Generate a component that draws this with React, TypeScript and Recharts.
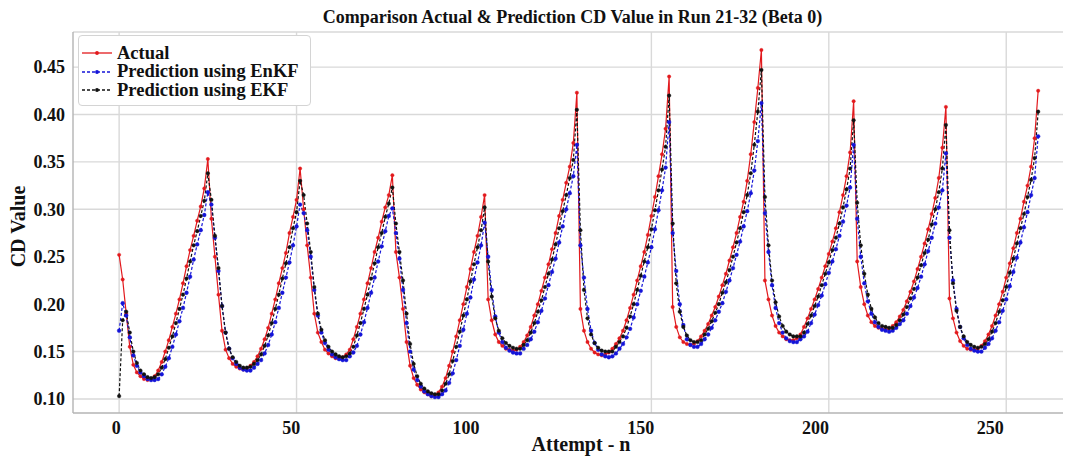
import React from 'react';
import { LineChart, Line, XAxis, YAxis, CartesianGrid, Legend, ReferenceLine } from 'recharts';

// ---- data ----
const actual = [
  0.252, 0.226, 0.190, 0.155, 0.136, 0.128, 0.124, 0.121, 0.120, 0.121, 0.124, 0.130, 0.139, 0.150, 0.162, 0.176, 0.190, 0.205, 0.222, 0.240, 0.257, 0.272, 0.288, 0.303, 0.322, 0.353,
  0.290, 0.250, 0.210, 0.172, 0.152, 0.143, 0.137, 0.134, 0.132, 0.131, 0.132, 0.135, 0.139, 0.145, 0.153, 0.163, 0.175, 0.190, 0.205, 0.222, 0.238, 0.254, 0.275, 0.292, 0.310, 0.343,
  0.300, 0.262, 0.228, 0.190, 0.170, 0.160, 0.152, 0.148, 0.145, 0.143, 0.143, 0.144, 0.147, 0.152, 0.163, 0.176, 0.190, 0.205, 0.222, 0.238, 0.255, 0.270, 0.287, 0.302, 0.315, 0.336,
  0.255, 0.228, 0.195, 0.160, 0.135, 0.122, 0.115, 0.110, 0.107, 0.105, 0.103, 0.104, 0.107, 0.113, 0.122, 0.135, 0.150, 0.166, 0.183, 0.200, 0.218, 0.237, 0.255, 0.272, 0.292, 0.315,
  0.205, 0.183, 0.168, 0.160, 0.156, 0.153, 0.152, 0.151, 0.152, 0.155, 0.160, 0.167, 0.176, 0.188, 0.200, 0.214, 0.228, 0.242, 0.258, 0.275, 0.293, 0.310, 0.328, 0.345, 0.370, 0.423,
  0.195, 0.172, 0.160, 0.153, 0.149, 0.147, 0.146, 0.147, 0.149, 0.153, 0.158, 0.164, 0.172, 0.183, 0.196, 0.210, 0.225, 0.240, 0.255, 0.273, 0.293, 0.313, 0.335, 0.358, 0.385, 0.440,
  0.197, 0.176, 0.165, 0.160, 0.158, 0.157, 0.158, 0.161, 0.166, 0.172, 0.179, 0.188, 0.197, 0.208, 0.220, 0.232, 0.246, 0.260, 0.275, 0.292, 0.308, 0.330, 0.358, 0.392, 0.428, 0.468,
  0.225, 0.205, 0.188, 0.177, 0.170, 0.166, 0.163, 0.162, 0.162, 0.164, 0.168, 0.176, 0.185, 0.195, 0.205, 0.216, 0.228, 0.240, 0.253, 0.266, 0.280, 0.297, 0.315, 0.335, 0.360, 0.414,
  0.245, 0.218, 0.200, 0.188, 0.181, 0.177, 0.175, 0.174, 0.173, 0.174, 0.177, 0.181, 0.187, 0.194, 0.203, 0.213, 0.224, 0.237, 0.250, 0.264, 0.279, 0.295, 0.312, 0.333, 0.365, 0.408,
  0.206, 0.185, 0.170, 0.161, 0.156, 0.153, 0.152, 0.152, 0.153, 0.156, 0.161, 0.168, 0.177, 0.188, 0.200, 0.213, 0.228, 0.243, 0.259, 0.275, 0.290, 0.308, 0.325, 0.345, 0.375, 0.425,
];

const enkf = [
  0.172, 0.201, 0.188, 0.165, 0.146, 0.135, 0.128, 0.124, 0.121, 0.120, 0.120, 0.121, 0.126, 0.134, 0.143, 0.155, 0.168, 0.182, 0.196, 0.212, 0.229, 0.247, 0.263, 0.278, 0.294, 0.318,
  0.305, 0.270, 0.235, 0.198, 0.170, 0.153, 0.143, 0.137, 0.133, 0.131, 0.130, 0.130, 0.133, 0.137, 0.141, 0.148, 0.157, 0.168, 0.181, 0.196, 0.212, 0.228, 0.244, 0.262, 0.282, 0.305,
  0.296, 0.278, 0.250, 0.215, 0.188, 0.170, 0.159, 0.152, 0.147, 0.144, 0.142, 0.141, 0.141, 0.145, 0.149, 0.156, 0.168, 0.181, 0.196, 0.212, 0.228, 0.245, 0.261, 0.277, 0.293, 0.301,
  0.275, 0.248, 0.215, 0.180, 0.150, 0.131, 0.120, 0.113, 0.108, 0.105, 0.103, 0.102, 0.102, 0.105, 0.109, 0.117, 0.127, 0.141, 0.156, 0.173, 0.190, 0.207, 0.226, 0.244, 0.262, 0.286,
  0.250, 0.215, 0.187, 0.170, 0.160, 0.154, 0.151, 0.149, 0.148, 0.148, 0.153, 0.157, 0.163, 0.171, 0.181, 0.193, 0.206, 0.220, 0.234, 0.248, 0.265, 0.282, 0.300, 0.317, 0.335, 0.368,
  0.262, 0.228, 0.195, 0.172, 0.159, 0.152, 0.147, 0.145, 0.144, 0.145, 0.148, 0.153, 0.158, 0.165, 0.174, 0.186, 0.200, 0.214, 0.229, 0.244, 0.260, 0.279, 0.299, 0.320, 0.344, 0.392,
  0.275, 0.235, 0.200, 0.178, 0.163, 0.157, 0.155, 0.155, 0.158, 0.163, 0.168, 0.175, 0.183, 0.192, 0.201, 0.213, 0.225, 0.238, 0.252, 0.266, 0.282, 0.298, 0.317, 0.341, 0.372, 0.412,
  0.296, 0.255, 0.220, 0.196, 0.180, 0.170, 0.164, 0.161, 0.160, 0.160, 0.163, 0.166, 0.171, 0.180, 0.189, 0.199, 0.209, 0.221, 0.233, 0.245, 0.258, 0.272, 0.287, 0.304, 0.323, 0.368,
  0.290, 0.250, 0.222, 0.203, 0.190, 0.181, 0.176, 0.173, 0.172, 0.171, 0.172, 0.175, 0.179, 0.183, 0.190, 0.198, 0.207, 0.217, 0.229, 0.242, 0.256, 0.270, 0.285, 0.302, 0.320, 0.359,
  0.270, 0.225, 0.195, 0.176, 0.164, 0.157, 0.153, 0.151, 0.150, 0.150, 0.154, 0.158, 0.164, 0.172, 0.181, 0.193, 0.205, 0.219, 0.234, 0.249, 0.265, 0.281, 0.297, 0.315, 0.333, 0.377,
];

const ekf = [
  0.103, 0.183, 0.192, 0.170, 0.150, 0.138, 0.130, 0.126, 0.123, 0.122, 0.123, 0.126, 0.133, 0.142, 0.154, 0.166, 0.180, 0.195, 0.210, 0.227, 0.245, 0.262, 0.277, 0.293, 0.309, 0.338,
  0.310, 0.272, 0.238, 0.198, 0.170, 0.153, 0.144, 0.139, 0.135, 0.133, 0.133, 0.134, 0.137, 0.141, 0.147, 0.156, 0.167, 0.180, 0.195, 0.210, 0.227, 0.243, 0.260, 0.280, 0.297, 0.330,
  0.315, 0.285, 0.255, 0.218, 0.190, 0.173, 0.162, 0.155, 0.150, 0.147, 0.145, 0.144, 0.145, 0.148, 0.155, 0.167, 0.180, 0.195, 0.210, 0.227, 0.243, 0.260, 0.275, 0.292, 0.306, 0.323,
  0.285, 0.255, 0.225, 0.190, 0.158, 0.137, 0.124, 0.116, 0.111, 0.108, 0.106, 0.105, 0.105, 0.109, 0.116, 0.126, 0.140, 0.155, 0.171, 0.188, 0.205, 0.224, 0.242, 0.260, 0.278, 0.302,
  0.245, 0.208, 0.185, 0.172, 0.164, 0.159, 0.156, 0.154, 0.153, 0.153, 0.157, 0.162, 0.170, 0.180, 0.192, 0.204, 0.218, 0.232, 0.247, 0.263, 0.280, 0.298, 0.315, 0.333, 0.352, 0.405,
  0.278, 0.215, 0.185, 0.168, 0.159, 0.154, 0.151, 0.150, 0.150, 0.150, 0.155, 0.160, 0.166, 0.175, 0.187, 0.200, 0.215, 0.230, 0.245, 0.260, 0.279, 0.299, 0.320, 0.342, 0.366, 0.420,
  0.285, 0.222, 0.192, 0.176, 0.167, 0.162, 0.160, 0.160, 0.162, 0.168, 0.174, 0.182, 0.191, 0.200, 0.212, 0.223, 0.236, 0.250, 0.265, 0.280, 0.297, 0.315, 0.338, 0.368, 0.403, 0.447,
  0.313, 0.262, 0.225, 0.202, 0.187, 0.177, 0.171, 0.168, 0.166, 0.166, 0.166, 0.170, 0.179, 0.188, 0.198, 0.208, 0.220, 0.232, 0.244, 0.257, 0.270, 0.285, 0.302, 0.321, 0.343, 0.394,
  0.307, 0.262, 0.232, 0.210, 0.195, 0.186, 0.180, 0.177, 0.176, 0.175, 0.175, 0.178, 0.183, 0.189, 0.197, 0.206, 0.216, 0.228, 0.241, 0.254, 0.268, 0.284, 0.300, 0.318, 0.343, 0.389,
  0.278, 0.222, 0.193, 0.176, 0.166, 0.160, 0.157, 0.155, 0.154, 0.155, 0.158, 0.163, 0.171, 0.180, 0.192, 0.204, 0.218, 0.233, 0.248, 0.264, 0.280, 0.295, 0.313, 0.331, 0.354, 0.403,
];

const xTicks = [0, 50, 100, 150, 200, 250];
const yTicks = [0.10, 0.15, 0.20, 0.25, 0.30, 0.35, 0.40, 0.45];
const xGridValues = [0, 50, 150, 200, 250];
const yGridValues = [0.10, 0.15, 0.30, 0.35, 0.40, 0.45];

const TITLE = 'Comparison Actual & Prediction CD Value in Run 21-32 (Beta 0)';
const X_LABEL = 'Attempt - n';
const Y_LABEL = 'CD Value';
const SERIES_NAMES = ['Actual', 'Prediction using EnKF', 'Prediction using EKF'];

// ---- styling ----
const SERIF = '"Liberation Serif", "DejaVu Serif", serif';
const RED = '#e2191d';
const BLUE = '#1414d8';
const BLACK = '#111111';
const GRID = '#d9d9d9';
const AXIS = '#b4b4b4';

const SERIES = [
  { key: 'actual', name: SERIES_NAMES[0], color: RED, dash: undefined as string | undefined, r: 1.7 },
  { key: 'enkf', name: SERIES_NAMES[1], color: BLUE, dash: '3 2', r: 1.9 },
  { key: 'ekf', name: SERIES_NAMES[2], color: BLACK, dash: '3 2', r: 1.8 },
];

const data = actual.map((v, i) => ({ attempt: i, actual: v, enkf: enkf[i], ekf: ekf[i] }));

const ROW_H = 18.5;

const LegendBox = () => (
  <div
    style={{
      background: '#fff',
      border: '1px solid #d4d4d4',
      borderRadius: 4,
      padding: '8px 11px 5px 2px',
      fontFamily: SERIF,
      fontWeight: 700,
      fontSize: 18.5,
      color: '#111',
      whiteSpace: 'nowrap',
      textAlign: 'left',
    }}
  >
    {SERIES.map((s) => (
      <div key={s.key} style={{ display: 'flex', alignItems: 'center', height: ROW_H, overflow: 'visible' }}>
        <svg width={32} height={10} style={{ marginRight: 4, flex: 'none' }}>
          <line x1={1} y1={5} x2={31} y2={5} stroke={s.color} strokeWidth={1.3} strokeDasharray={s.dash} />
          <circle cx={16} cy={5} r={1.9} fill={s.color} />
        </svg>
        <span style={{ display: 'block', height: ROW_H - 1, lineHeight: `${ROW_H - 1}px`, overflow: 'visible' }}>{s.name}</span>
      </div>
    ))}
  </div>
);

const renderYLabel = (props: any) => {
  const vb = props.viewBox || {};
  const cx = (vb.x ?? 0) + 25;
  const cy = (vb.y ?? 0) + (vb.height ?? 0) / 2 + 4;
  return (
    <text
      x={cx}
      y={cy}
      transform={`rotate(-90 ${cx} ${cy})`}
      textAnchor="middle"
      fontFamily={SERIF}
      fontWeight={700}
      fontSize={20}
      fill="#111"
    >
      {Y_LABEL}
    </text>
  );
};

const renderXLabel = (props: any) => {
  const vb = props.viewBox || {};
  const cx = (vb.x ?? 0) + (vb.width ?? 0) / 2 + 13;
  const cy = (vb.y ?? 0) + 38;
  return (
    <text x={cx} y={cy} textAnchor="middle" fontFamily={SERIF} fontWeight={700} fontSize={20} fill="#111">
      {X_LABEL}
    </text>
  );
};

export default function App() {
  return (
    <div
      style={{
        position: 'absolute',
        left: 0,
        top: 0,
        width: 1075,
        height: 457,
        background: '#fff',
        overflow: 'hidden',
      }}
    >
      <div
        style={{
          position: 'absolute',
          left: 70,
          top: 7,
          width: 1005,
          textAlign: 'center',
          fontFamily: SERIF,
          fontWeight: 700,
          fontSize: 18,
          lineHeight: '20px',
          color: '#111',
          whiteSpace: 'nowrap',
        }}
      >
        {TITLE}
      </div>
      <LineChart width={1075} height={457} data={data} margin={{ top: 32, right: 12, bottom: 0, left: 0 }}>
        <CartesianGrid
          xAxisId="main"
          yAxisId="y"
          horizontalValues={yGridValues}
          verticalValues={xGridValues}
          stroke={GRID}
          strokeWidth={1.4}
        />
        <XAxis
          xAxisId="main"
          dataKey="attempt"
          type="number"
          domain={[-13, 266]}
          allowDataOverflow
          hide
        />
        <XAxis
          xAxisId="lab"
          dataKey="attempt"
          type="number"
          domain={[-12.4, 270.8]}
          allowDataOverflow
          ticks={xTicks}
          height={44}
          axisLine={{ stroke: AXIS, strokeWidth: 1.4 }}
          tickLine={false}
          tickSize={6}
          tickMargin={2}
          tick={{ fontFamily: SERIF, fontWeight: 700, fontSize: 18, fill: '#111' }}
          label={renderXLabel}
        />
        <YAxis
          yAxisId="y"
          type="number"
          domain={[0.0852, 0.487]}
          allowDataOverflow
          ticks={yTicks}
          tickFormatter={(v: number) => v.toFixed(2)}
          width={73}
          axisLine={{ stroke: AXIS, strokeWidth: 1.4 }}
          tickLine={false}
          tickSize={6}
          tickMargin={2}
          tick={{ fontFamily: SERIF, fontWeight: 700, fontSize: 18, fill: '#111' }}
          label={renderYLabel}
        />
        <ReferenceLine xAxisId="main" yAxisId="y" y={0.487} stroke={GRID} strokeWidth={1.4} />
        <Legend
          layout="vertical"
          align="center"
          verticalAlign="middle"
          content={LegendBox}
          wrapperStyle={{ position: 'absolute', left: 78, top: 35, width: 'auto', height: 'auto' }}
        />
        {SERIES.map((s) => (
          <Line
            key={s.key}
            xAxisId="main"
            yAxisId="y"
            type="linear"
            dataKey={s.key}
            name={s.name}
            stroke={s.color}
            strokeWidth={1.2}
            strokeDasharray={s.dash}
            dot={{ r: s.r, fill: s.color, stroke: s.color, strokeWidth: 0.4, strokeDasharray: '' }}
            activeDot={false}
            isAnimationActive={false}
          />
        ))}
      </LineChart>
    </div>
  );
}
